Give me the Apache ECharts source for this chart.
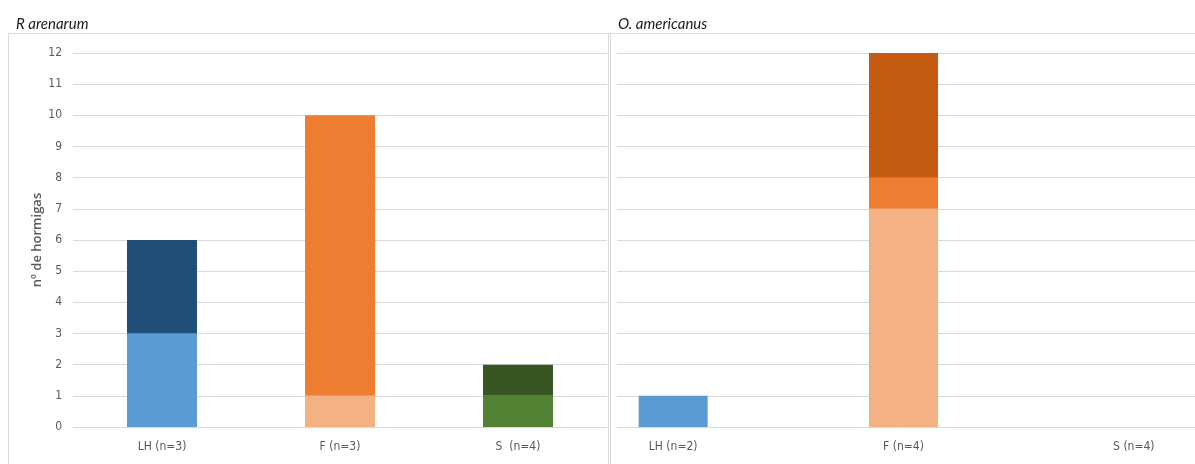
<!DOCTYPE html>
<html>
<head>
<meta charset="utf-8">
<script src="https://cdn.jsdelivr.net/npm/echarts@6/dist/echarts.min.js"></script>
<style>
  html, body { margin: 0; padding: 0; background: #fff; }
  .page { position: relative; width: 1195px; height: 464px; overflow: hidden; }
  .panel { position: absolute; border: 1px solid #d9d9d9; box-sizing: border-box; }
  #leftChart { position: absolute; left: 0; top: 0; width: 610px; height: 464px; }
  .clip { position: absolute; left: 611px; top: 0; width: 584px; height: 464px; overflow: hidden; }
  #rightChart { position: absolute; left: -60px; top: 0; width: 760px; height: 464px; }
</style>
</head>
<body>
<div class="page">
  <div class="panel" style="left:8px; top:33px; width:601px; height:460px;"></div>
  <div class="panel" style="left:610px; top:33px; width:600px; height:460px;"></div>
  <div id="leftChart"></div>
  <div class="clip"><div id="rightChart"></div></div>
</div>

<script>
// R arenarum
const leftCategories = ['LH (n=3)', 'F (n=3)', 'S  (n=4)']
const leftLower = [3, 1, 1]
const leftUpper = [3, 9, 1]
const leftLowerColors = ['#5b9bd5', '#f4b183', '#548235']
const leftUpperColors = ['#1f4e79', '#ed7d31', '#375623']

// O. americanus
const rightCategories = ['LH (n=2)', 'F (n=4)', 'S (n=4)']
const rightLower = [1, 7, 0]
const rightMiddle = [0, 1, 0]
const rightUpper = [0, 4, 0]
const rightLowerColors = ['#5b9bd5', '#f4b183', '#5b9bd5']
const rightMiddleColors = ['#ed7d31', '#ed7d31', '#ed7d31']
const rightUpperColors = ['#c55a11', '#c55a11', '#c55a11']

const yTicks = [0, 12, 1]  // min, max, interval
const labelFont = "'Liberation Sans Narrow', 'DejaVu Sans Condensed', sans-serif"
const gray = '#595959'

const paint = (values, colors) => values.map((v, i) => ({ value: v, itemStyle: { color: colors[i] } }))

const stackSeries = (levels, barWidth) => levels.map(([values, colors]) => ({
  type: 'bar', stack: 'total', barWidth,
  data: paint(values, colors),
  emphasis: { disabled: true },
}))

const xAxisBase = (data) => ({
  type: 'category', data,
  axisLine: { show: false }, axisTick: { show: false },
  axisLabel: { color: gray, fontSize: 12, fontFamily: labelFont, margin: 14 },
})

const yAxisBase = () => ({
  type: 'value', min: yTicks[0], max: yTicks[1], interval: yTicks[2],
  axisLine: { show: false }, axisTick: { show: false },
  splitLine: { lineStyle: { color: '#d9d9d9', width: 1 } },
})

const titleStyle = { color: '#1a1a1a', fontSize: 15, fontStyle: 'italic', fontWeight: 'normal', fontFamily: 'Lato, sans-serif' }

const left = echarts.init(document.getElementById('leftChart'))
left.setOption({
  animation: false,
  title: { text: 'R arenarum', left: 11, top: 12, textStyle: titleStyle },
  grid: { left: 73, right: 3, top: 53, bottom: 37 },
  xAxis: xAxisBase(leftCategories),
  yAxis: {
    ...yAxisBase(),
    name: 'nº de hormigas', nameLocation: 'middle', nameGap: 29, nameMoveOverlap: false,
    nameTextStyle: { color: gray, fontSize: 13, fontWeight: 600, fontFamily: "'Open Sans', sans-serif" },
    axisLabel: { color: gray, fontSize: 12, fontFamily: labelFont, margin: 11 },
  },
  series: stackSeries([[leftLower, leftLowerColors], [leftUpper, leftUpperColors]], 70),
})

const right = echarts.init(document.getElementById('rightChart'))
right.setOption({
  animation: false,
  title: { text: 'O. americanus', left: 62, top: 12, textStyle: titleStyle },
  grid: { left: 7, right: 62, top: 53, bottom: 37 },
  xAxis: xAxisBase(rightCategories),
  yAxis: { ...yAxisBase(), axisLabel: { show: false } },
  series: stackSeries([
    [rightLower, rightLowerColors],
    [rightMiddle, rightMiddleColors],
    [rightUpper, rightUpperColors],
  ], 69),
  graphic: [{
    type: 'rect', left: 60, top: 40, z: 100,
    shape: { width: 6, height: 400 },
    style: { fill: '#fff' },
  }],
})
</script>
</body>
</html>
